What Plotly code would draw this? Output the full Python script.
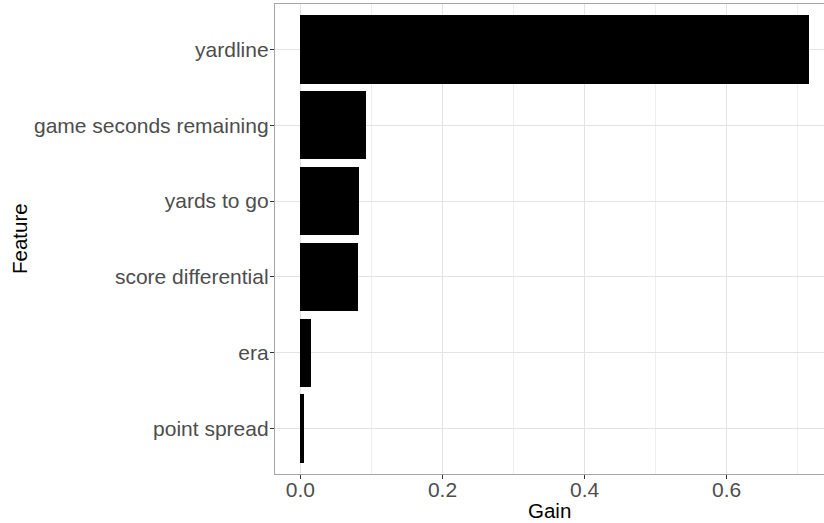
import plotly.graph_objects as go

features = ["yardline", "game seconds remaining", "yards to go",
            "score differential", "era", "point spread"]
gain = [0.716, 0.0922, 0.0826, 0.0817, 0.0145, 0.005]

x_ticks = [0.0, 0.2, 0.4, 0.6]
x_ticklabels = ["0.0", "0.2", "0.4", "0.6"]

fig = go.Figure()
fig.add_trace(go.Bar(
    x=gain, y=features, orientation="h",
    width=0.9,
    marker=dict(color="black", line=dict(width=0)),
    hoverinfo="x+y",
))

font_family = "Liberation Sans, Arial, sans-serif"

fig.update_layout(
    width=824, height=523,
    margin=dict(l=275, r=0, t=4, b=49, autoexpand=False),
    paper_bgcolor="white", plot_bgcolor="white",
    showlegend=False,
    font=dict(family=font_family),
    bargap=0,
    annotations=[
        dict(text="Gain", xref="paper", yref="paper", x=0.5, y=0,
             yshift=-36, xanchor="center", yanchor="middle", showarrow=False,
             font=dict(size=20.5, color="black", family=font_family)),
        dict(text="Feature", xref="paper", yref="paper", x=0, y=0.5,
             xshift=-256, xanchor="center", yanchor="middle", showarrow=False,
             textangle=-90,
             font=dict(size=20.5, color="black", family=font_family)),
    ],
)

fig.update_xaxes(
    range=[-0.0358, 0.737],
    automargin=False,
    tickvals=x_ticks, ticktext=x_ticklabels,
    showgrid=True, gridcolor="#e3e3e3", gridwidth=1,
    minor=dict(tickvals=[0.1, 0.3, 0.5, 0.7], showgrid=True,
               gridcolor="#eeeeee", gridwidth=1, ticks=""),
    zeroline=False,
    showline=True, linecolor="#a6a6a6", linewidth=1.3, mirror=True,
    ticks="outside", ticklen=4, tickcolor="#333333", tickwidth=1,
    ticklabelstandoff=-7,
    tickfont=dict(size=21, color="#4d4d4d", family=font_family),
)

fig.update_yaxes(
    type="category",
    automargin=False,
    categoryorder="array", categoryarray=features[::-1],
    range=[-0.6, 5.6],
    showgrid=True, gridcolor="#e3e3e3", gridwidth=1,
    zeroline=False,
    showline=True, linecolor="#a6a6a6", linewidth=1.3, mirror=False,
    ticks="outside", ticklen=4, tickcolor="#333333", tickwidth=1,
    ticklabelstandoff=-3,
    tickfont=dict(size=21, color="#4d4d4d", family=font_family),
)

fig.write_html("out.html",
               config={"displayModeBar": False},
               post_script="document.body.style.margin='0px';")
